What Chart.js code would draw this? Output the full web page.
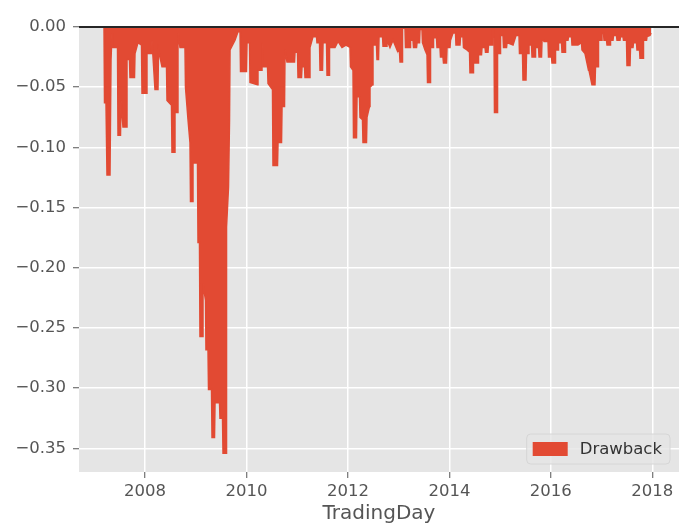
<!DOCTYPE html>
<html>
<head>
<meta charset="utf-8">
<script src="https://cdn.jsdelivr.net/npm/chart.js@4.4.0/dist/chart.umd.min.js"></script>
<style>
  html, body { margin: 0; padding: 0; background: #fff; }
  #wrap { width: 681px; height: 528px; }
</style>
</head>
<body>
<div id="wrap"><canvas id="drawbackChart" width="681" height="528"></canvas></div>
<script>
// trading day as decimal year, drawdown
const tradingDay = [
  2007.192, 2007.202, 2007.231, 2007.251, 2007.310, 2007.330, 2007.350, 2007.369, 2007.458, 2007.468,
  2007.517, 2007.527, 2007.566, 2007.635, 2007.645, 2007.694, 2007.704, 2007.793, 2007.803, 2007.862,
  2007.931, 2007.941, 2008.030, 2008.039, 2008.128, 2008.138, 2008.197, 2008.256, 2008.266, 2008.335,
  2008.424, 2008.434, 2008.522, 2008.532, 2008.582, 2008.591, 2008.641, 2008.650, 2008.690, 2008.788,
  2008.798, 2008.848, 2008.887, 2008.897, 2008.936, 2008.946, 2009.035, 2009.045, 2009.074, 2009.084,
  2009.133, 2009.143, 2009.193, 2009.202, 2009.242, 2009.252, 2009.311, 2009.321, 2009.370, 2009.380,
  2009.469, 2009.478, 2009.528, 2009.538, 2009.597, 2009.607, 2009.646, 2009.666, 2009.676, 2009.774,
  2009.833, 2009.873, 2009.883, 2010.001, 2010.011, 2010.060, 2010.070, 2010.218, 2010.227, 2010.296,
  2010.306, 2010.326, 2010.415, 2010.425, 2010.513, 2010.523, 2010.612, 2010.622, 2010.691, 2010.701,
  2010.750, 2010.760, 2010.799, 2010.947, 2010.957, 2011.006, 2011.016, 2011.085, 2011.095, 2011.144,
  2011.154, 2011.243, 2011.252, 2011.312, 2011.381, 2011.390, 2011.440, 2011.450, 2011.499, 2011.509,
  2011.578, 2011.588, 2011.627, 2011.637, 2011.745, 2011.804, 2011.883, 2011.962, 2012.041, 2012.051,
  2012.100, 2012.110, 2012.169, 2012.179, 2012.228, 2012.238, 2012.287, 2012.297, 2012.366, 2012.376,
  2012.425, 2012.435, 2012.485, 2012.494, 2012.563, 2012.573, 2012.603, 2012.613, 2012.682, 2012.692,
  2012.761, 2012.770, 2012.829, 2012.889, 2012.948, 2012.967, 2013.017, 2013.027, 2013.066, 2013.076,
  2013.125, 2013.135, 2013.224, 2013.234, 2013.283, 2013.293, 2013.352, 2013.362, 2013.411, 2013.421,
  2013.460, 2013.470, 2013.519, 2013.559, 2013.569, 2013.618, 2013.628, 2013.677, 2013.687, 2013.746,
  2013.756, 2013.815, 2013.825, 2013.874, 2013.884, 2013.943, 2013.953, 2014.012, 2014.022, 2014.071,
  2014.121, 2014.130, 2014.209, 2014.219, 2014.268, 2014.278, 2014.347, 2014.397, 2014.406, 2014.466,
  2014.475, 2014.564, 2014.574, 2014.633, 2014.643, 2014.702, 2014.712, 2014.761, 2014.771, 2014.840,
  2014.850, 2014.879, 2014.889, 2014.939, 2014.949, 2014.998, 2015.008, 2015.057, 2015.067, 2015.126,
  2015.136, 2015.254, 2015.313, 2015.372, 2015.382, 2015.441, 2015.451, 2015.510, 2015.520, 2015.560,
  2015.569, 2015.619, 2015.629, 2015.688, 2015.698, 2015.757, 2015.767, 2015.816, 2015.826, 2015.855,
  2015.865, 2015.944, 2015.954, 2016.013, 2016.023, 2016.082, 2016.092, 2016.141, 2016.151, 2016.210,
  2016.220, 2016.279, 2016.289, 2016.338, 2016.348, 2016.407, 2016.417, 2016.535, 2016.604, 2016.614,
  2016.673, 2016.742, 2016.752, 2016.811, 2016.870, 2016.880, 2016.930, 2016.939, 2016.999, 2017.008,
  2017.038, 2017.048, 2017.097, 2017.107, 2017.166, 2017.176, 2017.225, 2017.235, 2017.294, 2017.304,
  2017.363, 2017.373, 2017.422, 2017.432, 2017.491, 2017.501, 2017.560, 2017.570, 2017.619, 2017.629,
  2017.688, 2017.698, 2017.748, 2017.757, 2017.817, 2017.826, 2017.886, 2017.896, 2017.955, 2017.975
];
const drawdown = [
  0, -0.063, -0.063, -0.123, -0.123, -0.027, -0.005, -0.017, -0.017, -0.090,
  -0.090, -0.061, -0.083, -0.083, -0.027, -0.027, -0.042, -0.042, -0.022, -0.013,
  -0.015, -0.055, -0.055, -0.022, -0.022, -0.011, -0.052, -0.052, -0.019, -0.033,
  -0.033, -0.061, -0.065, -0.104, -0.104, -0.071, -0.071, -0.005, -0.017, -0.017,
  -0.050, -0.077, -0.096, -0.145, -0.145, -0.113, -0.113, -0.179, -0.179, -0.257,
  -0.257, -0.213, -0.227, -0.268, -0.268, -0.301, -0.301, -0.341, -0.341, -0.312,
  -0.312, -0.325, -0.325, -0.354, -0.354, -0.166, -0.133, -0.077, -0.019, -0.011,
  -0.004, -0.004, -0.037, -0.037, -0.013, -0.013, -0.046, -0.048, -0.036, -0.036,
  -0.013, -0.033, -0.033, -0.047, -0.052, -0.115, -0.115, -0.096, -0.096, -0.066,
  -0.066, -0.019, -0.029, -0.029, -0.021, -0.021, -0.042, -0.042, -0.033, -0.033,
  -0.042, -0.042, -0.017, -0.008, -0.008, -0.013, -0.013, -0.036, -0.036, -0.013,
  -0.013, -0.040, -0.040, -0.017, -0.017, -0.012, -0.017, -0.015, -0.017, -0.033,
  -0.036, -0.092, -0.092, -0.058, -0.058, -0.075, -0.077, -0.096, -0.096, -0.075,
  -0.066, -0.050, -0.048, -0.015, -0.015, -0.027, -0.027, -0.008, -0.008, -0.016,
  -0.016, -0.011, -0.017, -0.011, -0.017, -0.019, -0.021, -0.029, -0.029, -0.001,
  -0.001, -0.017, -0.017, -0.011, -0.011, -0.017, -0.017, -0.013, -0.013, -0.002,
  -0.002, -0.013, -0.019, -0.023, -0.046, -0.046, -0.017, -0.017, -0.009, -0.009,
  -0.017, -0.017, -0.025, -0.025, -0.030, -0.030, -0.017, -0.017, -0.011, -0.005,
  -0.005, -0.015, -0.015, -0.008, -0.008, -0.017, -0.019, -0.021, -0.038, -0.038,
  -0.030, -0.030, -0.023, -0.023, -0.017, -0.017, -0.021, -0.021, -0.015, -0.015,
  -0.002, -0.002, -0.071, -0.071, -0.022, -0.022, -0.007, -0.007, -0.017, -0.017,
  -0.013, -0.015, -0.007, -0.007, -0.022, -0.022, -0.044, -0.044, -0.022, -0.022,
  -0.015, -0.015, -0.025, -0.025, -0.017, -0.017, -0.025, -0.025, -0.011, -0.011,
  -0.012, -0.012, -0.025, -0.025, -0.030, -0.030, -0.019, -0.019, -0.013, -0.013,
  -0.021, -0.021, -0.011, -0.011, -0.008, -0.008, -0.015, -0.015, -0.013, -0.019,
  -0.022, -0.036, -0.036, -0.048, -0.048, -0.033, -0.033, -0.011, -0.011, -0.005,
  -0.005, -0.011, -0.011, -0.015, -0.015, -0.011, -0.011, -0.007, -0.007, -0.011,
  -0.011, -0.008, -0.008, -0.011, -0.011, -0.032, -0.032, -0.017, -0.017, -0.013,
  -0.013, -0.019, -0.019, -0.026, -0.026, -0.011, -0.011, -0.008, -0.007, -0.005
];
const yearTicks = [2008, 2010, 2012, 2014, 2016, 2018];
const drawdownTicks = [0, -0.05, -0.10, -0.15, -0.20, -0.25, -0.30, -0.35];
const yearRange = [2006.699, 2018.526];
const drawdownRange = [-0.3696, 0];

const RED = '#E24A33';
const FONT = 'DejaVu Sans';

const panelBg = {
  id: 'panelBg',
  beforeDraw(chart) {
    const { ctx, chartArea: a } = chart;
    ctx.save();
    ctx.fillStyle = '#E5E5E5';
    ctx.fillRect(a.left, a.top, a.right - a.left, a.bottom - a.top);
    ctx.restore();
  }
};

const zeroLine = {
  id: 'zeroLine',
  afterDatasetsDraw(chart) {
    const { ctx, chartArea: a, scales } = chart;
    const y = scales.y.getPixelForValue(0);
    ctx.save();
    ctx.strokeStyle = '#262626';
    ctx.lineWidth = 2;
    ctx.beginPath();
    ctx.moveTo(a.left, y);
    ctx.lineTo(a.right, y);
    ctx.stroke();
    ctx.restore();
  }
};

function roundedRect(ctx, x, y, w, h, r) {
  ctx.beginPath();
  ctx.moveTo(x + r, y);
  ctx.arcTo(x + w, y, x + w, y + h, r);
  ctx.arcTo(x + w, y + h, x, y + h, r);
  ctx.arcTo(x, y + h, x, y, r);
  ctx.arcTo(x, y, x + w, y, r);
  ctx.closePath();
}

// legend in the lower right corner of the panel
const cornerLegend = {
  id: 'cornerLegend',
  afterDraw(chart) {
    const { ctx, chartArea: a } = chart;
    const ds = chart.data.datasets[0];
    ctx.save();
    ctx.font = '16.5px "' + FONT + '"';
    const tw = ctx.measureText(ds.label).width;
    const w = 6 + 35 + 12 + tw + 8;
    const h = 30;
    const x = a.right - 9 - w;
    const y = a.bottom - 8 - h;
    roundedRect(ctx, x, y, w, h, 4);
    ctx.fillStyle = 'rgba(229,229,229,0.8)';
    ctx.fill();
    ctx.strokeStyle = '#d6d6d6';
    ctx.lineWidth = 1;
    ctx.stroke();
    ctx.fillStyle = ds.backgroundColor;
    ctx.fillRect(x + 6, y + 8, 35, 14);
    ctx.fillStyle = '#333333';
    ctx.textBaseline = 'middle';
    ctx.fillText(ds.label, x + 6 + 35 + 12, y + h / 2 + 1);
    ctx.restore();
  }
};

new Chart(document.getElementById('drawbackChart'), {
  type: 'line',
  data: {
    datasets: [{
      label: 'Drawback',
      data: tradingDay.map((t, i) => ({ x: t, y: drawdown[i] })),
      borderColor: RED,
      backgroundColor: RED,
      borderWidth: 1.5,
      fill: 'origin',
      pointRadius: 0,
      tension: 0
    }]
  },
  options: {
    responsive: false,
    animation: false,
    devicePixelRatio: 1,
    layout: { padding: { top: 27, right: 2, left: 0, bottom: 0 } },
    plugins: {
      legend: { display: false },
      tooltip: { enabled: false }
    },
    scales: {
      x: {
        type: 'linear',
        min: yearRange[0],
        max: yearRange[1],
        afterBuildTicks: s => { s.ticks = yearTicks.map(v => ({ value: v })); },
        afterFit: s => { s.height = 56; },
        border: { display: false },
        grid: { color: '#ffffff', lineWidth: 1.5, tickColor: '#555555', tickLength: 6, tickWidth: 1 },
        ticks: {
          color: '#555555',
          padding: 4,
          maxRotation: 0,
          font: { family: FONT, size: 16.5 },
          callback: v => String(v)
        },
        title: {
          display: true,
          text: 'TradingDay',
          color: '#555555',
          font: { family: FONT, size: 20 },
          padding: { top: 0, bottom: 2 }
        }
      },
      y: {
        type: 'linear',
        min: drawdownRange[0],
        max: drawdownRange[1],
        afterBuildTicks: s => { s.ticks = drawdownTicks.map(v => ({ value: v })); },
        afterFit: s => { s.width = 79; },
        border: { display: false },
        grid: { color: '#ffffff', lineWidth: 1.5, tickColor: '#555555', tickLength: 6, tickWidth: 1 },
        ticks: {
          color: '#555555',
          padding: 7,
          font: { family: FONT, size: 16.5 },
          callback: v => (v < 0 ? '\u2212' : '') + Math.abs(v).toFixed(2)
        }
      }
    }
  },
  plugins: [panelBg, zeroLine, cornerLegend]
});
</script>
</body>
</html>
